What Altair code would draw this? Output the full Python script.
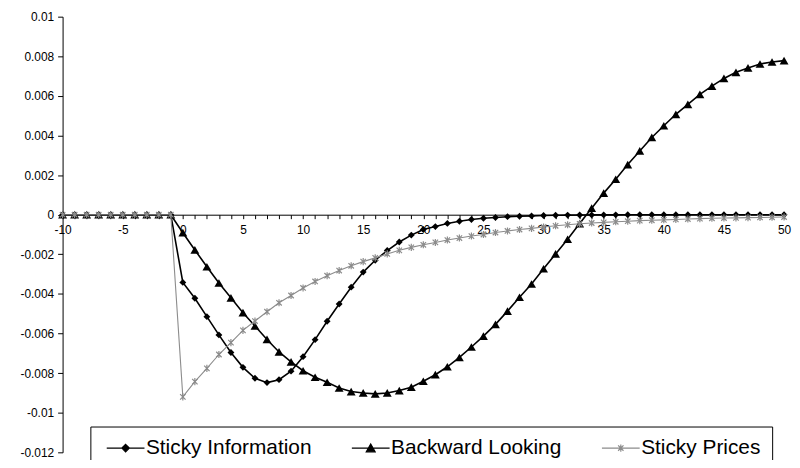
import altair as alt
import pandas as pd

T = list(range(-10, 51))

SERIES = ["Sticky Information", "Backward Looking", "Sticky Prices"]
COLORS = ["#000000", "#000000", "#8c8c8c"]

sticky_info = [
    0, 0, 0, 0, 0, 0, 0, 0, 0, 0,
    -0.00342, -0.00422, -0.00515, -0.00607, -0.00696, -0.00771, -0.00826, -0.00848, -0.00833, -0.00790,
    -0.00717, -0.00631, -0.00538, -0.00451, -0.00366, -0.00290, -0.00230, -0.00181, -0.00138, -0.00103,
    -0.00075, -0.00060, -0.00044, -0.00033, -0.00024, -0.00018, -0.00014, -0.00010, -0.00008, -0.00006,
    -0.00004, -0.00003, -0.00002, -0.000015, -0.00001, -0.00001, -0.000008, -0.000006, -0.000005, -0.000004,
    -0.000003, -0.000003, -0.000002, -0.000002, -0.000002, -0.000001, -0.000001, -0.000001, -0.000001, -0.000001,
    -0.000001,
]

backward = [
    0, 0, 0, 0, 0, 0, 0, 0, 0, 0,
    -0.00091, -0.00178, -0.00263, -0.00345, -0.00420, -0.00495, -0.00562, -0.00630, -0.00693, -0.00743,
    -0.00788, -0.00821, -0.00846, -0.00875, -0.00893, -0.00900, -0.00905, -0.00900, -0.00888, -0.00871,
    -0.00841, -0.00808, -0.00768, -0.00721, -0.00668, -0.00613, -0.00554, -0.00487, -0.00417, -0.00350,
    -0.00273, -0.00198, -0.00124, -0.00045, 0.00033, 0.00109, 0.00179, 0.00253, 0.00322, 0.00390,
    0.00449, 0.00507, 0.00557, 0.00608, 0.00649, 0.00688, 0.00719, 0.00741, 0.00761, 0.00771,
    0.00778,
]

sticky_prices = [
    0, 0, 0, 0, 0, 0, 0, 0, 0, 0,
    -0.00920, -0.00843, -0.00776, -0.00706, -0.00646, -0.00584, -0.00537, -0.00490, -0.00445, -0.00408,
    -0.00370, -0.00337, -0.00308, -0.00282, -0.00258, -0.00237, -0.00218, -0.00198, -0.00180, -0.00165,
    -0.00152, -0.00140, -0.00128, -0.00118, -0.00108, -0.00100, -0.00090, -0.00082, -0.00075, -0.00069,
    -0.00062, -0.00056, -0.00051, -0.00046, -0.00042, -0.00039, -0.00036, -0.00033, -0.00030, -0.00028,
    -0.00026, -0.00024, -0.00022, -0.00020, -0.00018, -0.00017, -0.00016, -0.00015, -0.00014, -0.00013,
    -0.00012,
]

Y_TICKS = [-0.012, -0.01, -0.008, -0.006, -0.004, -0.002, 0, 0.002, 0.004, 0.006, 0.008, 0.01]
X_TICKS = T

rows = []
for name, vals in zip(SERIES, [sticky_info, backward, sticky_prices]):
    for tt, v in zip(T, vals):
        rows.append({"t": tt, "value": v, "series": name})
df = pd.DataFrame(rows)

W, H = 727, 439
YMIN, YMAX = -0.012, 0.01
x_axis_offset = -H * (0 - YMIN) / (YMAX - YMIN)

FONT = "Liberation Sans"

x_enc = alt.X(
    "t:Q",
    title=None,
    scale=alt.Scale(domain=[-10, 50], nice=False, zero=False),
    axis=alt.Axis(
        values=X_TICKS,
        labelExpr="datum.value % 5 == 0 ? toString(datum.value) : ''",
        offset=x_axis_offset,
        tickSize=4,
        labelPadding=6,
        labelFlush=False,
        labelOverlap=False,
        labelBound=False,
        grid=False,
        domainColor="#000000",
        tickColor="#000000",
        labelColor="#000000",
        labelFont=FONT,
        labelFontSize=12,
        zindex=0,
    ),
)
y_enc = alt.Y(
    "value:Q",
    title=None,
    scale=alt.Scale(domain=[YMIN, YMAX], nice=False, zero=False),
    axis=alt.Axis(
        values=Y_TICKS,
        labelExpr="replace(format(datum.value, '.3~f'), '\u2212', '-')",
        tickSize=5,
        labelPadding=4,
        grid=False,
        domainColor="#000000",
        tickColor="#000000",
        labelColor="#000000",
        labelFont=FONT,
        labelFontSize=12,
        zindex=0,
    ),
)

base = alt.Chart(df)

STAR = "M-1,-1L1,1M-1,1L1,-1M0,-1.3L0,1.3"

layers = []
styles = {
    "Sticky Information": dict(color="#000000", width=1.6, shape="diamond", size=48, filled=True),
    "Backward Looking": dict(color="#000000", width=1.6, shape="triangle-up", size=80, filled=True),
    "Sticky Prices": dict(color="#8c8c8c", width=1.1, shape=STAR, size=30, filled=False),
}
for name in SERIES:
    s = styles[name]
    d = base.transform_filter(alt.datum.series == name)
    layers.append(d.mark_line(color=s["color"], strokeWidth=s["width"]).encode(x=x_enc, y=y_enc))
    layers.append(
        d.mark_point(
            shape=s["shape"], size=s["size"], filled=s["filled"], color=s["color"],
            opacity=1, strokeWidth=1.2,
        ).encode(x=x_enc, y=y_enc)
    )

# legend symbols: a short line with the marker in the middle (size 144 -> 6 px per unit)
LEG_PATHS = [
    "M-3.17,0L3.17,0M0,-0.63L0.63,0L0,0.63L-0.63,0Z",
    "M-3.17,0L3.17,0M0,-0.7L0.75,0.62L-0.75,0.62Z",
    "M-3.17,0L3.17,0M-0.45,-0.45L0.45,0.45M-0.45,0.45L0.45,-0.45M0,-0.6L0,0.6",
]

leg = alt.Legend(
    title=None,
    orient="none",
    legendX=28,
    legendY=413,
    direction="horizontal",
    symbolSize=144,
    symbolStrokeWidth=1.2,
    symbolOpacity=1,
    symbolOffset=14,
    labelFont=FONT,
    labelFontSize=21,
    labelColor="#000000",
    labelLimit=400,
    labelOffset=10,
    columnPadding=35,
    padding=11,
    strokeColor="#000000",
    fillColor="#ffffff",
)

legend_layer = base.transform_filter("false").mark_point(filled=True, size=144).encode(
    x=x_enc,
    y=y_enc,
    shape=alt.Shape("series:N", scale=alt.Scale(domain=SERIES, range=LEG_PATHS), legend=leg),
    fill=alt.Fill("series:N", scale=alt.Scale(domain=SERIES, range=COLORS), legend=leg),
    stroke=alt.Stroke("series:N", scale=alt.Scale(domain=SERIES, range=COLORS), legend=leg),
)

chart = (
    alt.layer(*layers, legend_layer)
    .properties(
        width=W,
        height=H,
        autosize=alt.AutoSizeParams(type="none"),
        padding={"left": 55, "top": 7, "right": 8, "bottom": 6},
        background="#ffffff",
    )
    .configure_view(stroke=None)
)

chart.save("out.html", embed_options={"renderer": "svg", "actions": False})
